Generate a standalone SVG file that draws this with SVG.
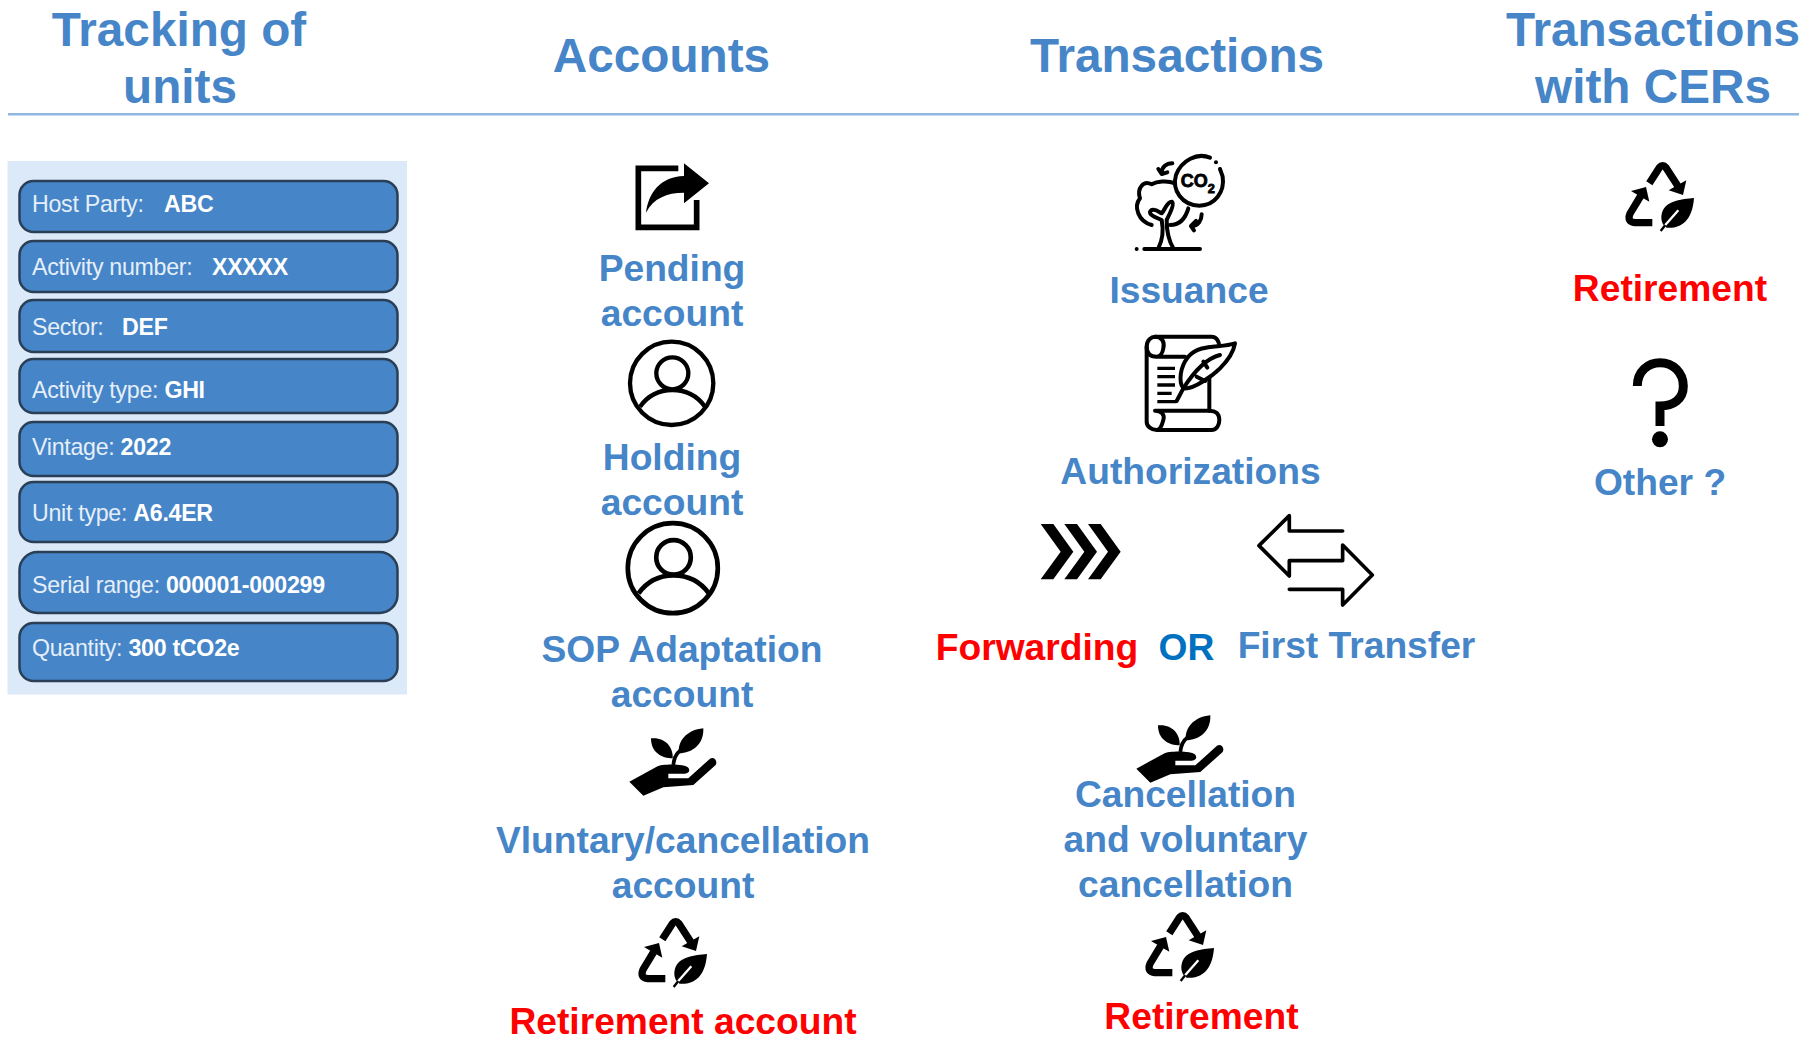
<svg xmlns="http://www.w3.org/2000/svg" width="1806" height="1056" viewBox="0 0 1806 1056">
<style>
text{font-family:"Liberation Sans",Arial,sans-serif}
.h{font-size:47.7px;font-weight:700;fill:#4585c8;text-anchor:middle}
.l{font-size:37.2px;font-weight:700;fill:#4585c8;text-anchor:middle}
.r{fill:#ff0000}
.row rect{fill:#4585c8;stroke:#2a3f55;stroke-width:2.5}
.row text{font-size:23.2px;fill:#e6eff9;letter-spacing:-.28px}
.row tspan{font-weight:700;fill:#fff}
.s{fill:none;stroke:#000;stroke-linecap:round;stroke-linejoin:round}
</style>
<defs>
<g id="recycle">
<path d="M118,97L148,50Q158,38 168,50L205,107" fill="none" stroke="#000" stroke-width="22"/>
<path d="M229,88L219,132L176,118Z"/>
<path d="M127,215H75Q50,212 60,188L92,135" fill="none" stroke="#000" stroke-width="22"/>
<path d="M63,120L108,108L118,152Z"/>
<path d="M252,141C215,145 168,148 156,185C150,205 158,224 170,230C207,234 247,215 252,141Z"/>
<path d="M205,178L152,238" stroke="#fff" stroke-width="7" fill="none"/>
<path d="M166,222L152,240" stroke="#000" stroke-width="7" fill="none"/>
</g>
<g id="hand">
<path d="M28,182L110,137C125,128 195,128 205,140C212,150 205,158 190,158H145V172H205L270,113C282,106 294,120 287,132L220,192L130,199L70,224Z"/>
<path d="M93,52C132,47 160,75 158,112C125,112 93,95 93,52Z"/>
<path d="M250,22C252,70 217,97 176,97C173,60 200,27 250,22Z"/>
<path d="M160,132C162,115 165,100 182,88" fill="none" stroke="#000" stroke-width="11"/>
</g>
<g id="person" fill="none" stroke="#000" stroke-width="13">
<circle cx="155" cy="145" r="125"/>
<circle cx="157" cy="115" r="48"/>
<path d="M60,215C85,180 120,165 157,165C195,165 230,180 255,215"/>
</g>
</defs>

<g id="header-tracking"><text class="h" x="179" y="46">Tracking of</text><text class="h" x="180" y="103">units</text></g>
<g id="header-accounts"><text class="h" x="661.500" y="72">Accounts</text></g>
<g id="header-transactions"><text class="h" x="1177" y="72">Transactions</text></g>
<g id="header-cers"><text class="h" x="1653" y="46">Transactions</text><text class="h" x="1653" y="103">with CERs</text></g>
<rect id="header-rule" x="8" y="113" width="1791" height="2.5" fill="#8fb8e2"/>

<g id="unit-panel">
<rect x="7.5" y="161" width="399.5" height="533.5" fill="#dce9f8"/>
<g class="row"><rect x="19.5" y="181" width="378" height="51" rx="14"/><text x="32" y="212">Host Party:<tspan x="164">ABC</tspan></text></g>
<g class="row"><rect x="19.5" y="241" width="378" height="51" rx="14"/><text x="32" y="275">Activity number:<tspan x="212">XXXXX</tspan></text></g>
<g class="row"><rect x="19.5" y="300" width="378" height="52" rx="14"/><text x="32" y="335">Sector:<tspan x="122">DEF</tspan></text></g>
<g class="row"><rect x="19.5" y="359" width="378" height="54" rx="14"/><text x="32" y="398">Activity type: <tspan>GHI</tspan></text></g>
<g class="row"><rect x="19.5" y="422" width="378" height="54" rx="14"/><text x="32" y="455">Vintage: <tspan>2022</tspan></text></g>
<g class="row"><rect x="19.5" y="482" width="378" height="60" rx="14"/><text x="32" y="521">Unit type: <tspan>A6.4ER</tspan></text></g>
<g class="row"><rect x="19.5" y="552" width="378" height="61" rx="18"/><text x="32" y="593">Serial range: <tspan>000001-000299</tspan></text></g>
<g class="row"><rect x="19.5" y="623" width="378" height="58" rx="14"/><text x="32" y="656">Quantity: <tspan>300 tCO2e</tspan></text></g>
</g>

<g id="pending-account">
<g transform="translate(610,150) scale(.3333)">
<path d="M205,55H85V232H260V150" fill="none" stroke="#000" stroke-width="17"/>
<path d="M222,40L297,100L222,160V128C170,128 130,145 108,188C115,130 150,80 222,78Z" stroke="#fff" stroke-width="5" paint-order="stroke"/>
</g>
<text class="l" x="672" y="281">Pending</text><text class="l" x="672" y="326">account</text>
</g>
<g id="holding-account">
<use href="#person" transform="translate(620,335) scale(.3333)"/>
<text class="l" x="672" y="470">Holding</text><text class="l" x="672" y="515">account</text>
</g>
<g id="sop-account">
<use href="#person" transform="translate(617,516) scale(.36)"/>
<text class="l" x="682" y="662">SOP Adaptation</text><text class="l" x="682" y="707">account</text>
</g>
<g id="voluntary-account">
<use href="#hand" transform="translate(620,721) scale(.3333)"/>
<text class="l" x="683" y="853">Vluntary/cancellation</text><text class="l" x="683" y="898">account</text>
</g>
<g id="retirement-account">
<use href="#recycle" transform="translate(623,907) scale(.3333)"/>
<text class="l r" x="683" y="1034">Retirement account</text>
</g>

<g id="issuance">
<g transform="translate(1110,145) scale(.3333)">
<g class="s" stroke-width="12">
<path d="M300,38C262,22 215,45 198,90C185,135 215,180 268,182C315,182 345,140 338,95C335,85 332,78 330,72"/>
<path d="M195,115C170,105 140,110 125,118C100,105 80,130 90,160C70,185 85,230 125,240"/>
<path d="M235,190C225,225 205,240 180,240"/>
<path d="M145,310C160,280 160,250 155,225C130,215 110,205 125,195C140,190 150,205 155,205C165,195 170,170 185,170C195,175 180,205 170,225C170,260 175,285 190,310"/>
<path d="M103,312H270"/>
<path d="M187,55C170,55 155,65 155,85M145,72L155,87L172,82"/>
<path d="M275,208C275,225 265,243 245,243M258,228L243,243L252,256"/>
</g>
<circle cx="318" cy="52" r="6"/><circle cx="80" cy="312" r="6"/>
<text x="212" y="127" font-size="54" font-weight="700" stroke="#000" stroke-width="2.500">CO<tspan font-size="38" dy="18">2</tspan></text>
</g>
<text class="l" x="1189" y="303">Issuance</text>
</g>
<g id="authorizations">
<g transform="translate(1120,325) scale(.3333)" class="s" stroke-width="12">
<path d="M110,95C90,95 80,85 80,65C80,45 95,35 105,35C125,35 135,50 130,70C128,85 120,95 110,95H195"/>
<path d="M105,35H275C290,35 298,50 298,65"/>
<path d="M268,130V257"/>
<path d="M80,65V290C80,305 95,315 110,315H275C290,315 298,300 298,285C298,265 285,257 270,257H105C125,257 135,270 130,285C125,305 118,315 110,315"/>
<path d="M345,55C300,70 240,55 205,95C180,125 175,170 190,190C220,195 280,150 300,130C320,110 340,85 345,55Z" fill="#fff"/>
<path d="M190,190L170,228M300,90C260,100 225,135 190,190M230,155L255,168M250,110L262,128"/>
<path d="M112,130H165M112,155H165M112,180H165M112,205H155M112,230H170" stroke-width="10" stroke-linecap="butt"/>
</g>
<text class="l" x="1190.500" y="484">Authorizations</text>
</g>
<g id="forwarding">
<g transform="translate(1020,500) scale(.3333)">
<path d="M62,72H100L160,155L100,238H62L122,155Z"/>
<path d="M133,72H171L231,155L171,238H133L193,155Z"/>
<path d="M204,72H242L302,155L242,238H204L264,155Z"/>
</g>
<text class="l r" x="1037" y="660">Forwarding</text>
</g>
<g id="or"><text class="l" x="1186.500" y="660" style="fill:#0070c0">OR</text></g>
<g id="first-transfer">
<path transform="translate(1020,500) scale(.3333)" class="s" stroke-width="11" d="M968,93H808V47L717,137L808,228V182H968V135L1057,225L968,315V268H808"/>
<text class="l" x="1356.500" y="658">First Transfer</text>
</g>
<g id="cancellation">
<use href="#hand" transform="translate(1127,708) scale(.3333)"/>
<text class="l" x="1185.500" y="807">Cancellation</text><text class="l" x="1185.500" y="852">and voluntary</text><text class="l" x="1185.500" y="897">cancellation</text>
</g>
<g id="retirement">
<use href="#recycle" transform="translate(1130,901) scale(.3333)"/>
<text class="l r" x="1201.500" y="1029">Retirement</text>
</g>

<g id="cer-retirement">
<use href="#recycle" transform="translate(1610,151) scale(.3333)"/>
<text class="l r" x="1670" y="301">Retirement</text>
</g>
<g id="cer-other">
<g transform="translate(1620,351) scale(.3333)">
<path d="M52,105C52,60 85,35 120,35C160,35 190,65 190,105C190,145 160,165 120,165V225" fill="none" stroke="#000" stroke-width="27"/>
<circle cx="120" cy="265" r="24"/>
</g>
<text class="l" x="1660" y="495">Other ?</text>
</g>
</svg>
